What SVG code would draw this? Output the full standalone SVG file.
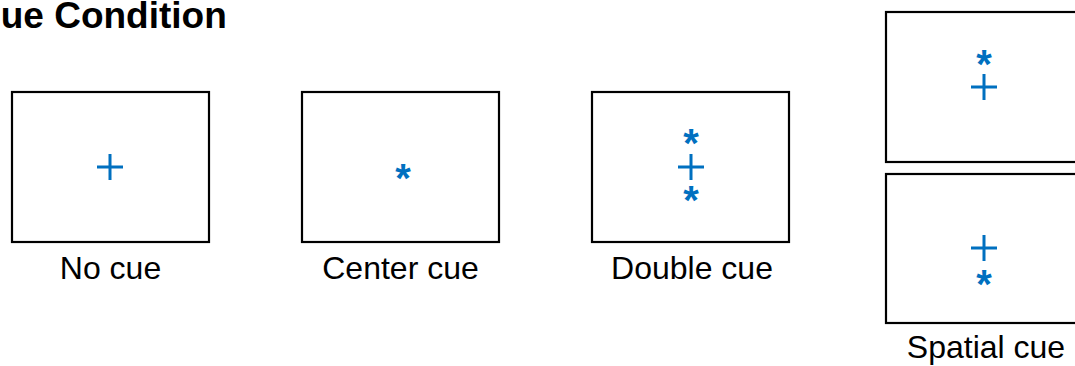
<svg xmlns="http://www.w3.org/2000/svg" width="1075" height="366" viewBox="0 0 1075 366">
  <style>
    .frame { fill: #ffffff; stroke: #000000; stroke-width: 2.2; }
    .fix { stroke: #0070C0; stroke-width: 3; fill: none; }
    .cue { fill: #0070C0; font-family: "Liberation Sans", Arial, sans-serif; font-size: 40px; font-weight: bold; text-anchor: middle; }
    .label { fill: #000000; font-family: "Liberation Sans", Arial, sans-serif; font-size: 32px; text-anchor: middle; }
    .title { fill: #000000; font-family: "Liberation Sans", Arial, sans-serif; font-size: 37px; font-weight: bold; }
  </style>
  <defs>
    <!-- fixation cross, centred on the origin -->
    <path id="cross" class="fix" d="M-13 0H13M0 -13V13"/>
  </defs>
  <rect width="1075" height="366" fill="#ffffff"/>

  <text class="title" x="-26" y="28">Cue Condition</text>

  <g id="no-cue">
    <rect class="frame" x="12" y="92" width="197" height="150"/>
    <use href="#cross" x="110" y="167"/>
    <text class="label" x="110.5" y="279">No cue</text>
  </g>

  <g id="center-cue">
    <rect class="frame" x="302" y="92" width="197" height="150"/>
    <text class="cue" x="403" y="192">*</text>
    <text class="label" x="400.5" y="279">Center cue</text>
  </g>

  <g id="double-cue">
    <rect class="frame" x="592" y="92" width="197" height="150"/>
    <text class="cue" x="691" y="157">*</text>
    <use href="#cross" x="691" y="167"/>
    <text class="cue" x="691" y="214">*</text>
    <text class="label" x="692" y="279">Double cue</text>
  </g>

  <g id="spatial-cue">
    <rect class="frame" x="886" y="12" width="197" height="150"/>
    <text class="cue" x="984" y="78">*</text>
    <use href="#cross" x="984" y="87"/>
    <rect class="frame" x="886" y="174" width="197" height="149"/>
    <use href="#cross" x="984" y="248"/>
    <text class="cue" x="984" y="298">*</text>
    <text class="label" x="986" y="358">Spatial cue</text>
  </g>

  <g id="connectors"/>
</svg>
